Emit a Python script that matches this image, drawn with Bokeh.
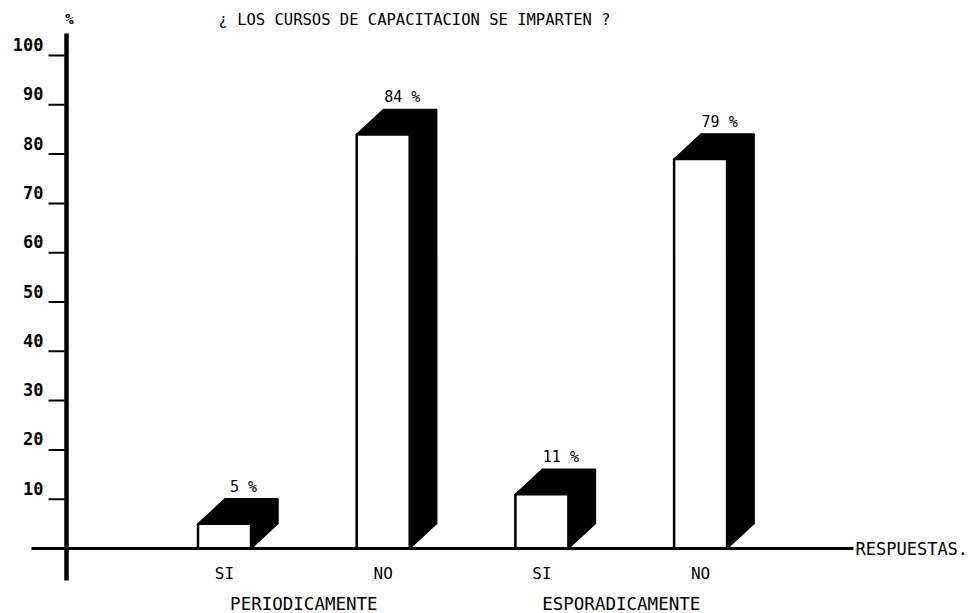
from bokeh.plotting import figure
from bokeh.models import Range1d
from bokeh.core.properties import value
from bokeh.embed import file_html
from bokeh.resources import INLINE

# ---- data ----
title_text = "¿ LOS CURSOS DE CAPACITACION SE IMPARTEN ?"
categories = ["SI", "NO", "SI", "NO"]
groups = ["PERIODICAMENTE", "ESPORADICAMENTE"]
values = [5, 84, 11, 79]
y_ticks = [10, 20, 30, 40, 50, 60, 70, 80, 90, 100]
y_label = "%"
x_label = "RESPUESTAS."

# ---- geometry (pixel scale helpers) ----
PX_X = 158.7   # pixels per x unit (bar spacing)
PX_Y = 4.93    # pixels per percent
X0 = 224.0     # canvas x of first bar centre
Y0 = 548.0     # canvas y of baseline
W, H = 978, 613

def xu(px):
    return px / PX_X

def yu(px):
    return px / PX_Y

def cx(px):   # canvas x -> data x
    return (px - X0) / PX_X

def cy(py):   # canvas y -> data y
    return (Y0 - py) / PX_Y

p = figure(width=W, height=H, output_backend="svg", toolbar_location=None,
           x_range=Range1d(cx(0), cx(W)), y_range=Range1d(cy(H), cy(0)),
           x_axis_type=None, y_axis_type=None,
           min_border=0, min_border_left=0, min_border_right=0,
           min_border_top=0, min_border_bottom=0)
p.grid.visible = False
p.outline_line_color = None
p.background_fill_color = "white"
p.border_fill_color = "white"

FONT = value("DejaVu Sans Mono")

xs = list(range(len(values)))
bw = xu(53)
dx = xu(27)
dy = yu(25)

# side and top faces (black)
side_xs, side_ys, top_xs, top_ys = [], [], [], []
for x, v in zip(xs, values):
    r = x + bw / 2
    l = x - bw / 2
    side_xs.append([r, r + dx, r + dx, r])
    side_ys.append([0, dy, v + dy, v])
    top_xs.append([l, l + dx, r + dx, r])
    top_ys.append([v, v + dy, v + dy, v])
p.patches(side_xs, side_ys, fill_color="black", line_color="black", line_width=1.5)
p.patches(top_xs, top_ys, fill_color="black", line_color="black", line_width=1.5)

# front faces
p.vbar(x=xs, top=values, bottom=0, width=bw,
       fill_color="white", line_color="black", line_width=2.5)

# value labels
p.text(x=[x + xu(19) for x in xs], y=[v + dy + yu(12) for v in values],
       text=[f"{v} %" for v in values], text_align="center",
       text_baseline="middle", text_font=FONT, text_font_size="15px",
       text_color="black")

# axes lines
ax_x = cx(66)
p.segment(x0=[ax_x], y0=[cy(580)], x1=[ax_x], y1=[cy(33)],
          line_color="black", line_width=4.5)
p.segment(x0=[cx(31)], y0=[0], x1=[cx(853)], y1=[0],
          line_color="black", line_width=3)

# ticks and labels
p.segment(x0=[cx(48)] * len(y_ticks), y0=y_ticks,
          x1=[cx(64)] * len(y_ticks), y1=y_ticks,
          line_color="black", line_width=2)
p.text(x=[cx(43)] * len(y_ticks), y=[t + yu(11) for t in y_ticks],
       text=[str(t) for t in y_ticks], text_align="right", text_baseline="middle",
       text_font=FONT, text_font_size="17px", text_font_style="bold", text_color="black")

# % symbol
p.text(x=[cx(69)], y=[cy(18)], text=[y_label],
       text_align="center", text_baseline="middle", text_font=FONT,
       text_font_size="14px", text_font_style="bold", text_color="black")

# title
p.text(x=[cx(414)], y=[cy(19)], text=[title_text],
       text_align="center", text_baseline="middle", text_font=FONT,
       text_font_size="15.5px", text_color="black")

# category labels
p.text(x=xs, y=[cy(573)] * len(xs), text=categories,
       text_align="center", text_baseline="middle", text_font=FONT,
       text_font_size="16px", text_color="black")

# group labels
gx = [(xs[0] + xs[1]) / 2, (xs[2] + xs[3]) / 2]
p.text(x=gx, y=[cy(603)] * 2, text=groups,
       text_align="center", text_baseline="middle", text_font=FONT,
       text_font_size="17.5px", text_color="black")

# x axis label
p.text(x=[cx(855)], y=[0], text=[x_label],
       text_align="left", text_baseline="middle", text_font=FONT,
       text_font_size="17px", text_color="black")

open("out.html", "w").write(file_html(p, INLINE))
